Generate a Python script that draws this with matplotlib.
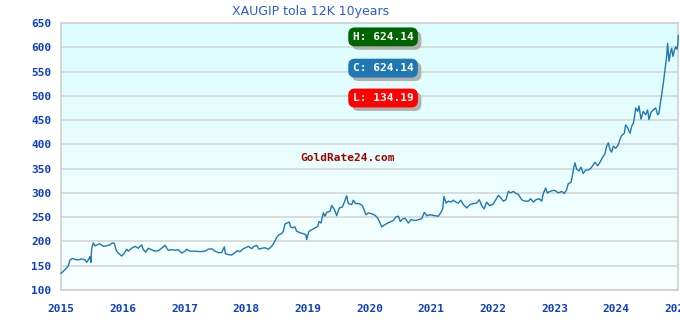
import numpy as np
import matplotlib
matplotlib.use('Agg')
import matplotlib.pyplot as plt
import matplotlib.patheffects as pe

# 数据：年份(小数) 与 价格
years = [
    2015.000, 2015.065, 2015.119, 2015.146, 2015.184, 2015.227, 2015.281, 2015.335, 2015.389, 2015.416,
    2015.443, 2015.470, 2015.486, 2015.497, 2015.524, 2015.551, 2015.605, 2015.632, 2015.686, 2015.740,
    2015.794, 2015.832, 2015.864, 2015.891, 2015.929, 2015.983, 2016.027, 2016.064, 2016.091, 2016.145,
    2016.199, 2016.253, 2016.307, 2016.334, 2016.372, 2016.415, 2016.469, 2016.523, 2016.577, 2016.631,
    2016.686, 2016.739, 2016.794, 2016.848, 2016.901, 2016.956, 2017.010, 2017.037, 2017.091, 2017.172,
    2017.253, 2017.334, 2017.388, 2017.442, 2017.496, 2017.550, 2017.604, 2017.647, 2017.664, 2017.712,
    2017.766, 2017.820, 2017.858, 2017.901, 2017.955, 2018.009, 2018.036, 2018.090, 2018.128, 2018.171,
    2018.209, 2018.252, 2018.306, 2018.360, 2018.414, 2018.452, 2018.495, 2018.533, 2018.576, 2018.603,
    2018.630, 2018.667, 2018.700, 2018.721, 2018.754, 2018.792, 2018.819, 2018.873, 2018.927, 2018.970,
    2018.981, 2019.019, 2019.063, 2019.117, 2019.160, 2019.181, 2019.214, 2019.252, 2019.279, 2019.306,
    2019.360, 2019.387, 2019.430, 2019.468, 2019.511, 2019.560, 2019.592, 2019.630, 2019.657, 2019.711,
    2019.738, 2019.776, 2019.830, 2019.884, 2019.916, 2019.943, 2019.981, 2020.035, 2020.089, 2020.133,
    2020.171, 2020.198, 2020.241, 2020.295, 2020.349, 2020.387, 2020.425, 2020.468, 2020.500, 2020.533,
    2020.576, 2020.630, 2020.673, 2020.738, 2020.792, 2020.846, 2020.889, 2020.927, 2020.981, 2021.062,
    2021.116, 2021.153, 2021.186, 2021.207, 2021.240, 2021.278, 2021.316, 2021.360, 2021.402, 2021.440,
    2021.478, 2021.521, 2021.575, 2021.629, 2021.683, 2021.737, 2021.780, 2021.818, 2021.856, 2021.899,
    2021.942, 2021.996, 2022.034, 2022.088, 2022.126, 2022.169, 2022.212, 2022.250, 2022.288, 2022.331,
    2022.374, 2022.412, 2022.466, 2022.520, 2022.574, 2022.612, 2022.655, 2022.698, 2022.752, 2022.790,
    2022.817, 2022.855, 2022.882, 2022.925, 2022.968, 2023.006, 2023.060, 2023.114, 2023.158, 2023.195,
    2023.222, 2023.266, 2023.287, 2023.309, 2023.330, 2023.357, 2023.395, 2023.427, 2023.465, 2023.503,
    2023.546, 2023.589, 2023.627, 2023.654, 2023.697, 2023.735, 2023.773, 2023.816, 2023.843, 2023.870,
    2023.897, 2023.924, 2023.951, 2023.989, 2024.032, 2024.059, 2024.086, 2024.130, 2024.151, 2024.184,
    2024.222, 2024.249, 2024.276, 2024.292, 2024.314, 2024.346, 2024.368, 2024.400, 2024.438, 2024.476,
    2024.508, 2024.530, 2024.562, 2024.600, 2024.638, 2024.670, 2024.692, 2024.714, 2024.735, 2024.762,
    2024.789, 2024.816, 2024.832, 2024.854, 2024.876, 2024.897, 2024.919, 2024.941, 2024.962, 2024.984,
    2024.996, 2025.004,
]
price = [
    134.19, 142, 150, 162, 165, 163, 162, 164, 162, 157,
    162, 169, 157, 186, 197, 191, 194, 195, 190, 191,
    193, 197, 196, 183, 176, 170, 176, 184, 180, 186,
    190, 186, 193, 183, 178, 186, 183, 180, 181, 186,
    192, 182, 183, 182, 183, 176, 180, 184, 180, 180,
    179, 180, 184, 185, 180, 177, 177, 189, 175, 173,
    172, 177, 181, 179, 185, 188, 190, 185, 190, 192,
    184, 186, 187, 184, 190, 197, 208, 214, 216, 221,
    236, 238, 240, 230, 228, 230, 221, 218, 216, 214,
    204, 221, 224, 228, 231, 241, 238, 259, 252, 260,
    262, 274, 266, 253, 269, 271, 281, 294, 278, 276,
    285, 278, 278, 274, 264, 255, 259, 257, 254, 248,
    238, 230, 234, 238, 241, 243, 250, 252, 241, 246,
    248, 238, 245, 243, 245, 247, 260, 253, 255, 253,
    252, 259, 267, 293, 279, 283, 281, 285, 281, 279,
    285, 276, 269, 276, 278, 279, 286, 274, 267, 281,
    274, 276, 283, 295, 290, 283, 286, 303, 300, 303,
    299, 297, 286, 283, 283, 288, 281, 286, 288, 283,
    299, 310, 300, 303, 305, 305, 300, 303, 299, 307,
    319, 322, 334, 351, 362, 349, 345, 353, 340, 347,
    347, 351, 358, 363, 356, 363, 372, 381, 396, 403,
    390, 384, 396, 392, 399, 410, 418, 423, 440, 434,
    423, 437, 444, 454, 475, 468, 479, 452, 468, 461,
    471, 451, 466, 471, 475, 461, 464, 485, 502, 526,
    553, 581, 608, 571, 588, 598, 581, 593, 601, 596,
    605, 624.14,
]

year_ticks = list(range(2015, 2026))
price_ticks = list(range(100, 651, 50))

title = 'XAUGIP tola 12K 10years'
badges = [('H: 624.14', '#006400'), ('C: 624.14', '#1f77b4'), ('L: 134.19', '#ff0000')]

tick_color = '#0d3fcc'
mono = 'DejaVu Sans Mono'

fig = plt.figure(figsize=(6.8, 3.2), dpi=100)
ax = fig.add_axes([61 / 680, 30 / 320, 617 / 680, 267 / 320])

# 背景渐变（上青下白）
grad = np.linspace(0, 1, 256).reshape(-1, 1)
top = np.array([220, 253, 253]) / 255
bot = np.array([248, 255, 255]) / 255
img = top + (bot - top) * grad[..., None]
ax.imshow(img, extent=[2015, 2025, 100, 650], origin='upper', aspect='auto', zorder=0)

ax.plot(years, price, color='#1f77b4', lw=1.0, zorder=3, clip_on=False)

ax.set_xlim(2015, 2025)
ax.set_ylim(100, 650)
ax.set_xticks(year_ticks)
ax.set_xticklabels([str(y) for y in year_ticks])
ax.set_yticks(price_ticks)
ax.grid(axis='y', color='#d6d6d6', lw=1.2, zorder=1)
ax.set_axisbelow(True)
for s in ax.spines.values():
    s.set_color('#d0d0d0')
    s.set_linewidth(1.2)
ax.tick_params(length=0, labelcolor=tick_color)
ax.tick_params(axis='x', pad=10)
ax.tick_params(axis='y', pad=7)
for lab in ax.get_xticklabels() + ax.get_yticklabels():
    lab.set_family(mono)
    lab.set_fontweight('bold')
    lab.set_fontsize(8)

fig.text(311 / 680, 1 - 11 / 320, title, ha='center', va='center',
         fontsize=9, color='#2a5bd7')

# H / C / L 标签
for (txt, col), yy in zip(badges, [0.948, 0.831, 0.719]):
    t = ax.text(0.522, yy, txt, transform=ax.transAxes, ha='center', va='center',
                family=mono, fontweight='bold', fontsize=8, color='white', zorder=5,
                bbox=dict(boxstyle='round,pad=0.4,rounding_size=0.6', fc=col, ec='none'))
    t.get_bbox_patch().set_path_effects([
        pe.SimplePatchShadow(offset=(2.5, -2.5), shadow_rgbFace='#b0b0b0', alpha=1),
        pe.Normal()])

ax.text(0.465, 0.494, 'GoldRate24.com', transform=ax.transAxes, ha='center', va='center',
        family=mono, fontweight='bold', fontsize=8, color='#a00000', zorder=4)

fig.savefig('out.png', dpi=100)
